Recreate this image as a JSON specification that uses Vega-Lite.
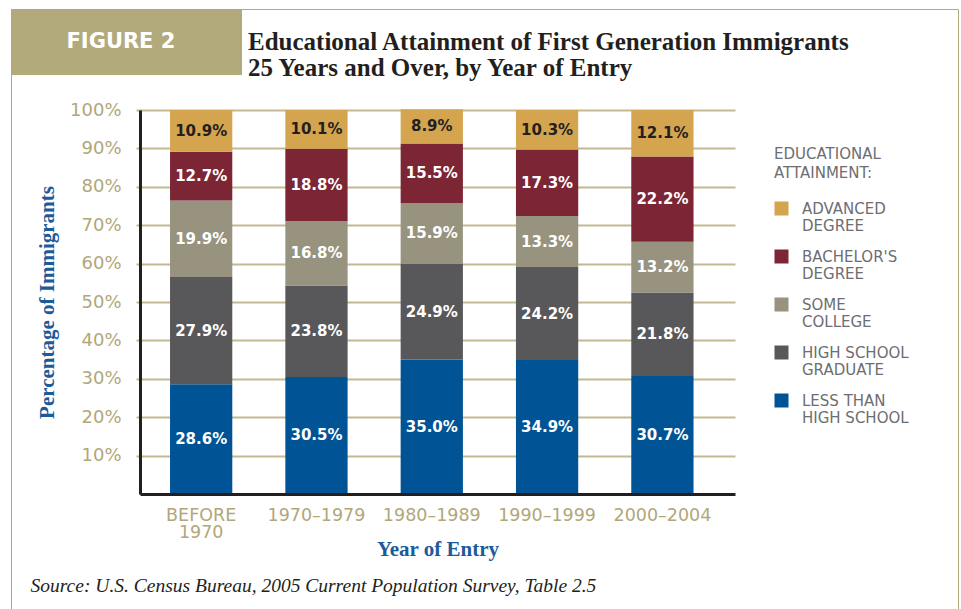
{
  "$schema": "https://vega.github.io/schema/vega-lite/v6.json",
  "background": "white",
  "padding": {"left": 10, "top": 8, "right": 0, "bottom": 0},
  "config": {"view": {"stroke": null}},
  "datasets": {
    "edu": [
      {"period": "Before 1970", "attainment": "Less Than High School", "level": 1, "share": 0.286},
      {"period": "Before 1970", "attainment": "High School Graduate", "level": 2, "share": 0.279},
      {"period": "Before 1970", "attainment": "Some College", "level": 3, "share": 0.199},
      {"period": "Before 1970", "attainment": "Bachelor's Degree", "level": 4, "share": 0.127},
      {"period": "Before 1970", "attainment": "Advanced Degree", "level": 5, "share": 0.109},
      {"period": "1970–1979", "attainment": "Less Than High School", "level": 1, "share": 0.305},
      {"period": "1970–1979", "attainment": "High School Graduate", "level": 2, "share": 0.238},
      {"period": "1970–1979", "attainment": "Some College", "level": 3, "share": 0.168},
      {"period": "1970–1979", "attainment": "Bachelor's Degree", "level": 4, "share": 0.188},
      {"period": "1970–1979", "attainment": "Advanced Degree", "level": 5, "share": 0.101},
      {"period": "1980–1989", "attainment": "Less Than High School", "level": 1, "share": 0.350},
      {"period": "1980–1989", "attainment": "High School Graduate", "level": 2, "share": 0.249},
      {"period": "1980–1989", "attainment": "Some College", "level": 3, "share": 0.159},
      {"period": "1980–1989", "attainment": "Bachelor's Degree", "level": 4, "share": 0.155},
      {"period": "1980–1989", "attainment": "Advanced Degree", "level": 5, "share": 0.089},
      {"period": "1990–1999", "attainment": "Less Than High School", "level": 1, "share": 0.349},
      {"period": "1990–1999", "attainment": "High School Graduate", "level": 2, "share": 0.242},
      {"period": "1990–1999", "attainment": "Some College", "level": 3, "share": 0.133},
      {"period": "1990–1999", "attainment": "Bachelor's Degree", "level": 4, "share": 0.173},
      {"period": "1990–1999", "attainment": "Advanced Degree", "level": 5, "share": 0.103},
      {"period": "2000–2004", "attainment": "Less Than High School", "level": 1, "share": 0.307},
      {"period": "2000–2004", "attainment": "High School Graduate", "level": 2, "share": 0.218},
      {"period": "2000–2004", "attainment": "Some College", "level": 3, "share": 0.132},
      {"period": "2000–2004", "attainment": "Bachelor's Degree", "level": 4, "share": 0.222},
      {"period": "2000–2004", "attainment": "Advanced Degree", "level": 5, "share": 0.121}
    ]
  },
  "title": {
    "text": "Source: U.S. Census Bureau, 2005 Current Population Survey, Table 2.5",
    "orient": "bottom",
    "anchor": "start",
    "frame": "bounds",
    "font": "Liberation Serif",
    "fontSize": 19.5,
    "fontStyle": "italic",
    "fontWeight": "normal",
    "color": "#231f20",
    "offset": -33,
    "dx": 20
  },
  "vconcat": [
    {
      "width": 595,
      "height": 384,
      "title": {
        "text": ["Educational Attainment of First Generation Immigrants", "25 Years and Over, by Year of Entry"],
        "orient": "top",
        "anchor": "start",
        "frame": "group",
        "font": "Liberation Serif",
        "fontSize": 25,
        "fontWeight": "bold",
        "color": "#231f20",
        "lineHeight": 26,
        "dx": 108,
        "offset": 20
      },
      "data": {"name": "edu"},
      "encoding": {
        "x": {
          "field": "period",
          "type": "nominal",
          "sort": null,
          "scale": {"paddingInner": 0.46, "paddingOuter": 0.31, "align": 0.42},
          "axis": {
            "title": "Year of Entry",
            "titleFont": "Liberation Serif",
            "titleFontSize": 21,
            "titleFontWeight": "bold",
            "titleColor": "#1d5a9a",
            "titlePadding": -2,
            "labelAngle": 0,
            "labelFont": "DejaVu Sans",
            "labelFontSize": 17.5,
            "labelColor": "#b1a779",
            "labelPadding": 12,
            "labelLineHeight": 17,
            "labelBaseline": "top",
            "labelExpr": "datum.value == 'Before 1970' ? ['BEFORE', '1970'] : datum.value",
            "ticks": false,
            "domainColor": "#231f20",
            "domainWidth": 3,
            "zindex": 1
          }
        }
      },
      "layer": [
        {
          "mark": {"type": "bar"},
          "encoding": {
            "y": {
              "field": "share",
              "type": "quantitative",
              "stack": "zero",
              "title": "Percentage of Immigrants",
              "scale": {"domain": [0, 1], "nice": false},
              "axis": {
                "titleFont": "Liberation Serif",
                "titleFontSize": 21,
                "titleFontWeight": "bold",
                "titleColor": "#1d5a9a",
                "titlePadding": 12,
                "values": [0.1, 0.2, 0.3, 0.4, 0.5, 0.6, 0.7, 0.8, 0.9, 1.0],
                "format": ".0%",
                "labelFont": "DejaVu Sans",
                "labelFontSize": 18,
                "labelColor": "#b1a779",
                "labelPadding": 15,
                "tickSize": 4,
                "tickColor": "#c2b992",
                "tickWidth": 2,
                "grid": true,
                "gridColor": "#c2b992",
                "gridWidth": 2,
                "domainColor": "#231f20",
                "domainWidth": 3
              }
            },
            "order": {"field": "level", "type": "quantitative", "sort": "ascending"},
            "color": {
              "field": "attainment",
              "type": "nominal",
              "scale": {
                "domain": ["Advanced Degree", "Bachelor's Degree", "Some College", "High School Graduate", "Less Than High School"],
                "range": ["#d5a44f", "#7b2535", "#97937f", "#58585a", "#005496"]
              },
              "legend": {
                "orient": "none",
                "legendX": 634,
                "legendY": 37,
                "padding": 0,
                "title": ["EDUCATIONAL", "ATTAINMENT:"],
                "titleFont": "DejaVu Sans",
                "titleFontSize": 15,
                "titleFontWeight": "normal",
                "titleColor": "#6d6e71",
                "titleLineHeight": 19,
                "titlePadding": 20,
                "labelFont": "DejaVu Sans",
                "labelFontSize": 15,
                "labelColor": "#6d6e71",
                "labelLineHeight": 19,
                "labelOffset": 13,
                "labelLimit": 220,
                "labelExpr": "datum.label == 'High School Graduate' ? ['HIGH SCHOOL', 'GRADUATE'] : datum.label == 'Less Than High School' ? ['LESS THAN', 'HIGH SCHOOL'] : split(upper(datum.label), ' ')",
                "symbolType": "square",
                "symbolSize": 196,
                "symbolStrokeWidth": 0,
                "rowPadding": 15
              }
            },
            "opacity": {
              "datum": "FIGURE 2",
              "type": "nominal",
              "scale": {"range": [1, 1]},
              "legend": {
                "orient": "none",
                "legendX": -129,
                "legendY": -101,
                "title": null,
                "values": ["FIGURE 2", "spacer"],
                "columns": 2,
                "columnPadding": 11,
                "fillColor": "#b3aa7c",
                "padding": 22.5,
                "symbolSize": 0,
                "symbolOpacity": 0,
                "symbolStrokeWidth": 0,
                "labelOffset": 12,
                "labelFont": "DejaVu Sans",
                "labelFontSize": 21,
                "labelFontWeight": "bold",
                "labelColor": "white",
                "labelExpr": "datum.value == 'FIGURE 2' ? datum.label : ''"
              }
            },
            "strokeDash": {
              "datum": "frame",
              "type": "nominal",
              "scale": {"range": [[1, 0]]},
              "legend": {
                "orient": "none",
                "legendX": -129,
                "legendY": -101,
                "title": null,
                "values": ["f1", "f2", "f3", "f4"],
                "columns": 2,
                "columnPadding": 945,
                "rowPadding": 597,
                "padding": 0,
                "strokeColor": "#b3aa7c",
                "symbolSize": 0,
                "symbolOpacity": 0,
                "symbolStrokeWidth": 0,
                "labelOffset": 0,
                "labelFontSize": 1,
                "labelExpr": "''",
                "encode": {"legend": {"update": {"strokeWidth": {"value": 2}}}}
              }
            }
          }
        },
        {
          "transform": [
            {"stack": "share", "groupby": ["period"], "sort": [{"field": "level", "order": "ascending"}], "as": ["y0", "y1"]},
            {"fold": ["y0", "y1"], "as": ["edge", "pos"]},
            {"aggregate": [{"op": "mean", "field": "pos", "as": "mid"}], "groupby": ["period", "attainment", "share"]}
          ],
          "mark": {"type": "text", "font": "DejaVu Sans", "fontSize": 15, "fontWeight": "bold", "align": "center", "baseline": "middle"},
          "encoding": {
            "y": {"field": "mid", "type": "quantitative", "stack": null, "title": "Percentage of Immigrants"},
            "text": {"field": "share", "format": ".1%"},
            "color": {"condition": {"test": "datum.attainment === 'Advanced Degree'", "value": "#231f20"}, "value": "white"}
          }
        }
      ]
    }
  ]
}
